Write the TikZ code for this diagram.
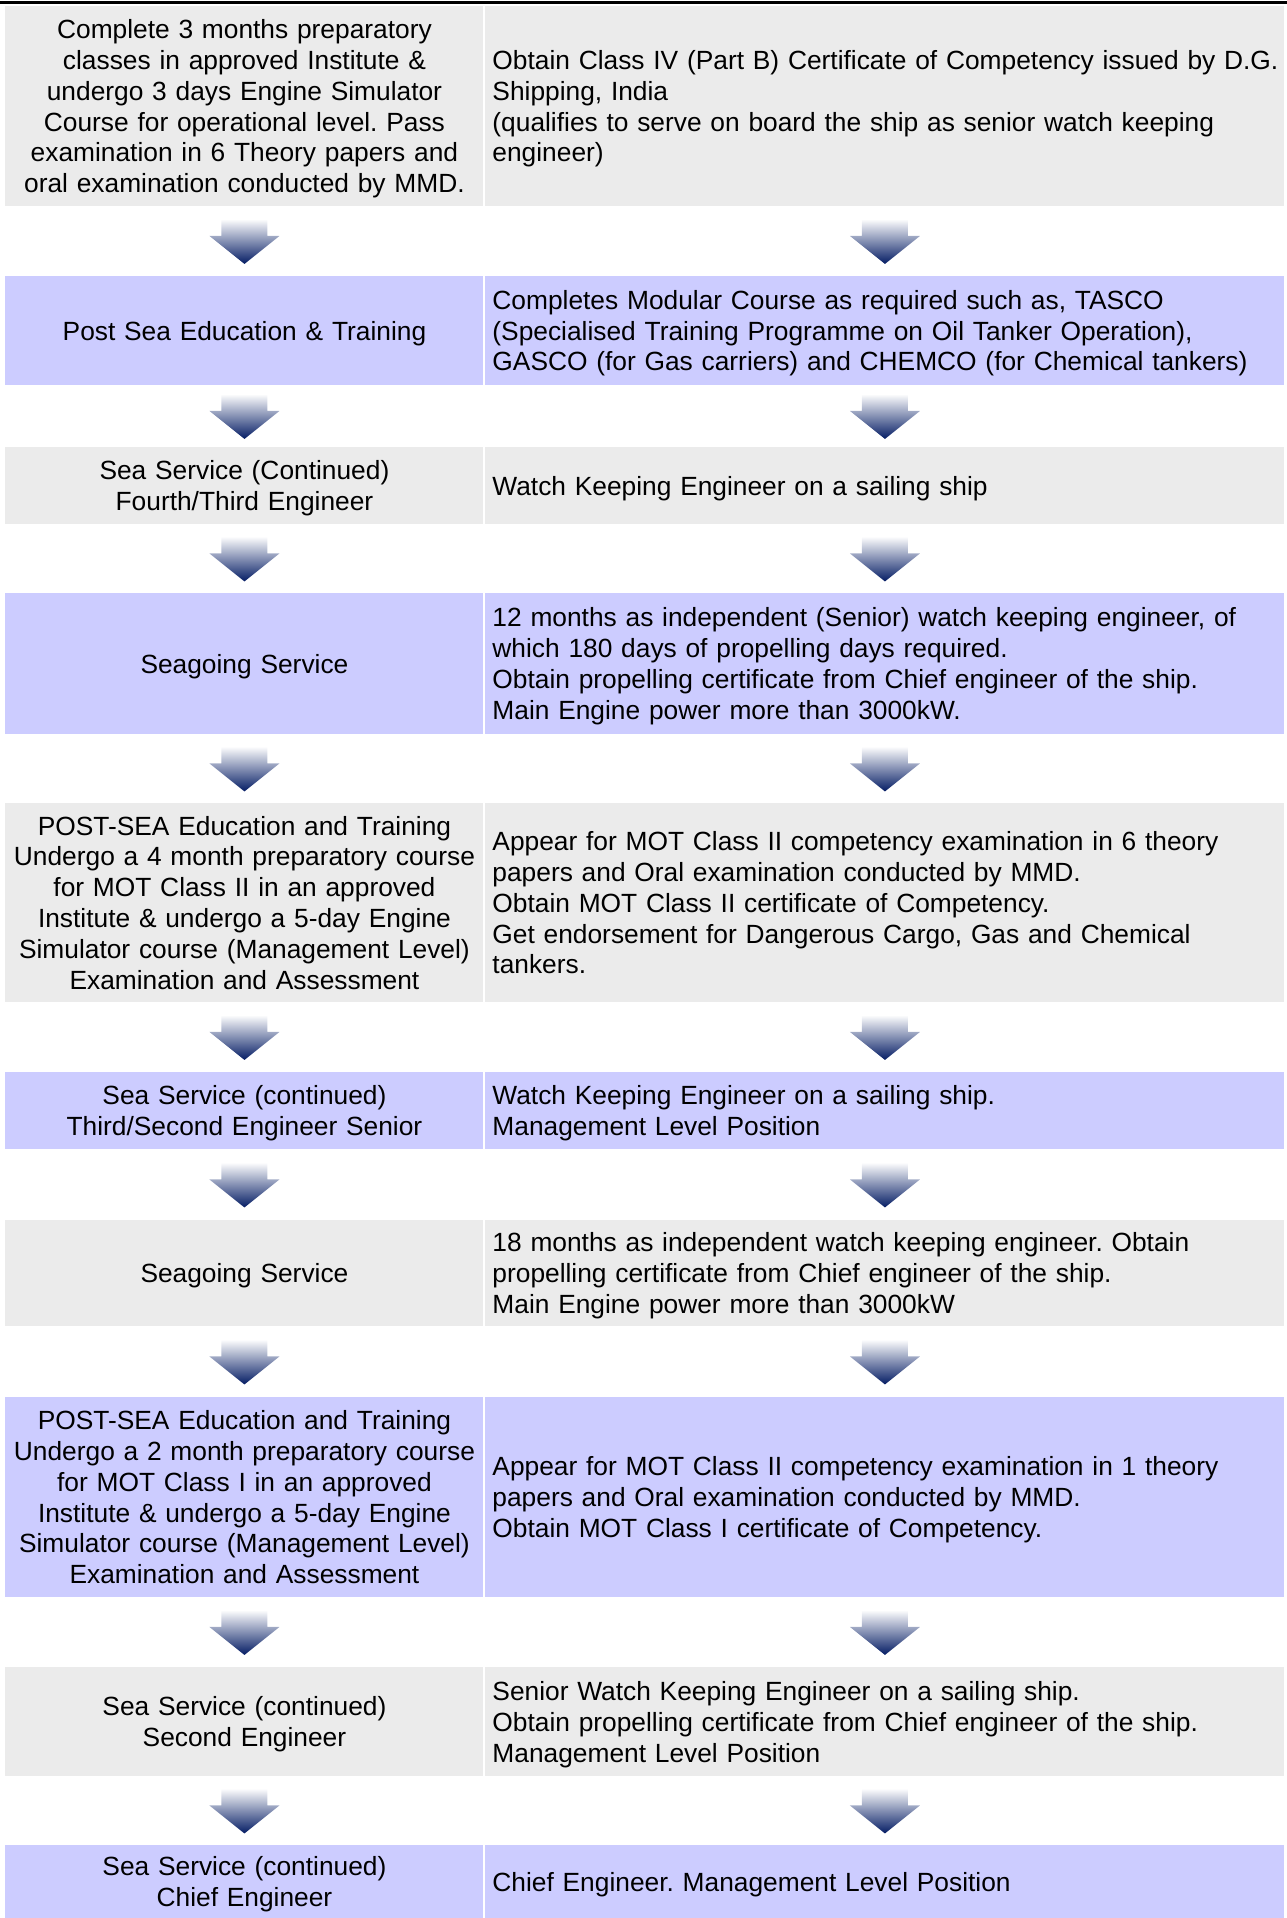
\documentclass[tikz,border=0pt]{standalone}
\usepackage{fontspec}
\setmainfont{Liberation Sans}
\frenchspacing
\usetikzlibrary{calc}

\definecolor{cellgray}{RGB}{235,235,235}
\definecolor{cellblue}{RGB}{204,204,255}
\definecolor{arrowmid}{RGB}{108,128,184}
\definecolor{arrowdark}{RGB}{4,28,100}

\tikzset{
  cell/.style={anchor=north west, inner ysep=0pt, font=\fontsize{11.85}{13.87}\selectfont,
    execute at begin node={\rule{0pt}{10.8pt}}, execute at end node={\rule[-2.5pt]{0pt}{0pt}}},
  leftcell/.style={cell, align=center, text width=212.4pt, inner xsep=1.35pt},
  rightcell/.style={cell, align=left, text width=353.25pt, inner xsep=3.15pt},
  grayrow/.style={fill=cellgray},
  bluerow/.style={fill=cellblue},
  arrowshade/.style={top color=white, middle color=arrowmid, bottom color=arrowdark},
  blockarrow/.pic={
    \shade[arrowshade] (-23,-22.5) -- (23,-22.5) -- (23,-5.5) -- (35,-5.5)
      -- (0,22.5) -- (-35,-5.5) -- (-23,-5.5) -- cycle;
  }
}

\begin{document}
\begin{tikzpicture}[x=0.45pt, y=-0.45pt]
  % one unit is one pixel of the page, y runs downwards
  \def\px{0.45pt}
  \useasboundingbox (0,0) rectangle (1287,1918);

  \draw[line width=3*\px] (0,2.5) -- (1287,2.5);

  % left column
  \node[leftcell, grayrow, minimum height=200*\px] (L1) at (5,6) {Complete 3 months preparatory\\classes in approved Institute \&\\undergo 3 days Engine Simulator\\Course for operational level. Pass\\examination in 6 Theory papers and\\oral examination conducted by MMD.};
  \node[leftcell, bluerow, minimum height=109*\px] (L2) at (5,276) {Post Sea Education \& Training};
  \node[leftcell, grayrow, minimum height=77*\px] (L3) at (5,447) {Sea Service (Continued)\\Fourth/Third Engineer};
  \node[leftcell, bluerow, minimum height=141*\px] (L4) at (5,593) {Seagoing Service};
  \node[leftcell, grayrow, minimum height=199*\px] (L5) at (5,803) {POST-SEA Education and Training\\Undergo a 4 month preparatory course\\for MOT Class II in an approved\\Institute \& undergo a 5-day Engine\\Simulator course (Management Level)\\Examination and Assessment};
  \node[leftcell, bluerow, minimum height=77*\px] (L6) at (5,1072) {Sea Service (continued)\\Third/Second Engineer Senior};
  \node[leftcell, grayrow, minimum height=106*\px] (L7) at (5,1220) {Seagoing Service};
  \node[leftcell, bluerow, minimum height=200*\px] (L8) at (5,1397) {POST-SEA Education and Training\\Undergo a 2 month preparatory course\\for MOT Class I in an approved\\Institute \& undergo a 5-day Engine\\Simulator course (Management Level)\\Examination and Assessment};
  \node[leftcell, grayrow, minimum height=109*\px] (L9) at (5,1667) {Sea Service (continued)\\Second Engineer};
  \node[leftcell, bluerow, minimum height=73*\px] (L10) at (5,1845) {Sea Service (continued)\\Chief Engineer};

  % right column
  \node[rightcell, grayrow, minimum height=200*\px] (R1) at (485,6) {\mbox{Obtain Class IV (Part B) Certificate of Competency issued by D.G.}\\Shipping, India\\(qualifies to serve on board the ship as senior watch keeping\\engineer)};
  \node[rightcell, bluerow, minimum height=109*\px] (R2) at (485,276) {Completes Modular Course as required such as, TASCO\\(Specialised Training Programme on Oil Tanker Operation),\\GASCO (for Gas carriers) and CHEMCO (for Chemical tankers)};
  \node[rightcell, grayrow, minimum height=77*\px] (R3) at (485,447) {Watch Keeping Engineer on a sailing ship};
  \node[rightcell, bluerow, minimum height=141*\px] (R4) at (485,593) {12 months as independent (Senior) watch keeping engineer, of\\which 180 days of propelling days required.\\Obtain propelling certificate from Chief engineer of the ship.\\Main Engine power more than 3000kW.};
  \node[rightcell, grayrow, minimum height=199*\px] (R5) at (485,803) {Appear for MOT Class II competency examination in 6 theory\\papers and Oral examination conducted by MMD.\\Obtain MOT Class II certificate of Competency.\\Get endorsement for Dangerous Cargo, Gas and Chemical\\tankers.};
  \node[rightcell, bluerow, minimum height=77*\px] (R6) at (485,1072) {Watch Keeping Engineer on a sailing ship.\\Management Level Position};
  \node[rightcell, grayrow, minimum height=106*\px] (R7) at (485,1220) {18 months as independent watch keeping engineer. Obtain\\propelling certificate from Chief engineer of the ship.\\Main Engine power more than 3000kW};
  \node[rightcell, bluerow, minimum height=200*\px] (R8) at (485,1397) {Appear for MOT Class II competency examination in 1 theory\\papers and Oral examination conducted by MMD.\\Obtain MOT Class I certificate of Competency.};
  \node[rightcell, grayrow, minimum height=109*\px] (R9) at (485,1667) {Senior Watch Keeping Engineer on a sailing ship.\\Obtain propelling certificate from Chief engineer of the ship.\\Management Level Position};
  \node[rightcell, bluerow, minimum height=73*\px] (R10) at (485,1845) {Chief Engineer. Management Level Position};

  % arrows between the rows
  \foreach \i in {1,...,9} {
    \pgfmathtruncatemacro{\j}{\i+1}
    \pic at ($(L\i.south)!0.5!(L\j.north)$) {blockarrow};
    \pic at ($(R\i.south)!0.5!(R\j.north)$) {blockarrow};
  }
\end{tikzpicture}
\end{document}
